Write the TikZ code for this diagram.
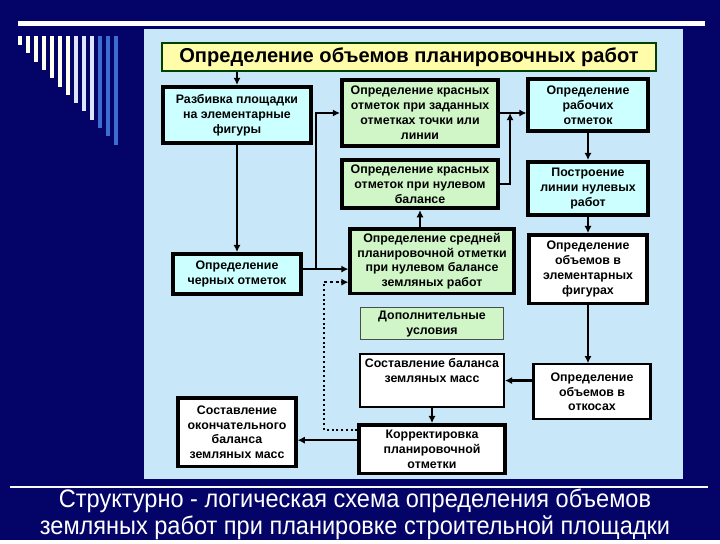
\documentclass[tikz,border=0pt]{standalone}
\usepackage{fontspec}
\setmainfont{Liberation Sans}
\usetikzlibrary{arrows.meta, positioning}

\definecolor{navy}{RGB}{4,4,104}
\definecolor{panelblue}{RGB}{200,232,250}
\definecolor{cyanfill}{RGB}{204,255,255}
\definecolor{greenfill}{RGB}{208,246,200}
\definecolor{titleyellow}{RGB}{255,252,170}
\definecolor{barcream}{RGB}{255,255,238}
\definecolor{barpale}{RGB}{222,228,250}
\definecolor{barblue}{RGB}{60,110,210}

\begin{document}
\begin{tikzpicture}[
    x=0.025cm, y=-0.025cm,
    box/.style={rectangle, draw=black, line width=2.6pt, align=center, inner sep=2pt, font=\fontsize{8.8}{10.6}\selectfont\bfseries},
    cyanbox/.style={box, fill=cyanfill},
    greenbox/.style={box, fill=greenfill},
    whitebox/.style={box, fill=white},
    arrow/.style={-{Latex[length=1.8mm, width=1.8mm]}, line width=1.7pt},
    dotline/.style={line width=1.4pt, dotted},
    dasharrow/.style={arrow, dash pattern=on 2pt off 2pt}
]
% background and decoration
\fill[navy] (0,0) rectangle (720,540);
\fill[white] (18,21) rectangle (705,26);
\foreach \i/\c in {0/barcream, 1/barcream, 2/barcream, 3/barcream, 4/barcream, 5/barcream, 6/barcream,
                   7/barpale, 8/barpale, 9/barpale, 10/barblue, 11/barblue, 12/barblue}
    \fill[\c] (18+8*\i,36) rectangle (22+8*\i,45+8.3*\i);
\fill[panelblue] (144,29) rectangle (683,479);
\fill[white!85!panelblue] (10,486) rectangle (708,488);

\node[box, fill=titleyellow, draw=black!75!green, line width=1.2pt, minimum width=12.36cm, minimum height=0.71cm,
      font=\fontsize{14.3}{16}\selectfont\bfseries] (title) at (409,57) {Определение объемов планировочных работ};

% left column
\node[cyanbox, minimum width=3.71cm, minimum height=1.41cm] (razbivka) at (237,115) {Разбивка площадки\\на элементарные\\фигуры};
\node[cyanbox, minimum width=3.21cm, minimum height=1.01cm, below=2.675cm of razbivka] (chernye) {Определение\\черных отметок};
\node[whitebox, minimum width=2.935cm, minimum height=1.71cm, below=2.5cm of chernye] (okonch) {Составление\\окончательного\\баланса\\земляных масс};

% middle column
\node[greenbox, minimum width=3.91cm, minimum height=1.66cm] (zadann) at (420,113) {Определение красных\\отметок при заданных\\отметках точки или\\линии};
\node[greenbox, minimum width=3.91cm, minimum height=1.21cm, below=0.25cm of zadann] (nulbal) {Определение красных\\отметок при нулевом\\балансе};
\node[greenbox, minimum width=4.085cm, minimum height=1.61cm, below=0.425cm of nulbal, xshift=0.3cm] (srednyaya) {Определение средней\\планировочной отметки\\при нулевом балансе\\земляных работ};
\node[greenbox, draw=black!70, line width=0.6pt, minimum width=3.58cm, minimum height=0.8cm, below=0.3cm of srednyaya] (dopusl) {Дополнительные\\условия};
\node[whitebox, line width=1.6pt, minimum width=3.59cm, minimum height=1.32cm, below=0.325cm of dopusl] (balans) {Составление баланса\\земляных масс\\ \strut};
\node[whitebox, minimum width=3.635cm, minimum height=1.21cm, below=0.375cm of balans] (korrekt) {Корректировка\\планировочной\\отметки};

% right column
\node[cyanbox, minimum width=2.985cm, minimum height=1.31cm] (rabochie) at (588,105) {Определение\\рабочих\\отметок};
\node[cyanbox, minimum width=2.985cm, minimum height=1.335cm, below=0.675cm of rabochie] (nullinia) {Построение\\линии нулевых\\работ};
\node[whitebox, minimum width=2.935cm, minimum height=1.71cm, below=0.4cm of nullinia] (obfig) {Определение\\объемов в\\элементарных\\фигурах};
\node[whitebox, line width=1.6pt, minimum width=2.92cm, minimum height=1.37cm, below=1.45cm of obfig, xshift=0.1cm] (obotkos) {Определение\\объемов в\\откосах};

\node[text=white, align=center, font=\addfontfeature{FakeStretch=0.93}\fontsize{18}{19}\selectfont] (caption) at (355,514) {Структурно - логическая схема определения объемов\\земляных работ при планировке строительной площадки};

% connectors
\coordinate (branch) at ([xshift=0.325cm, yshift=0.125cm]chernye.east);
\coordinate (merge) at ([xshift=0.25cm]zadann.east);
\coordinate (dotcorner) at ([xshift=-0.6cm, yshift=-0.525cm]srednyaya.west);

\draw[arrow] (razbivka.north |- title.south) -- (razbivka.north);
\draw[arrow] (razbivka.south) -- (razbivka.south |- chernye.north);
\draw[arrow] ([yshift=0.125cm]chernye.east) -- ([yshift=0.125cm]chernye.east -| srednyaya.west);
\draw[arrow] (branch) |- (zadann.west);
\draw[arrow] (zadann.east) -- (zadann.east -| rabochie.west);
\draw[arrow] (nulbal.east) -| (merge);
\draw[arrow] (srednyaya.north -| nulbal.south) -- (nulbal.south);
\draw[arrow] (rabochie.south) -- (nullinia.north);
\draw[arrow] (nullinia.south) -- (obfig.north);
\draw[arrow] (obfig.south) -- (obfig.south |- obotkos.north);
\draw[arrow] (obotkos.west |- balans.east) -- (balans.east);
\draw[arrow] (balans.south) -- (balans.south |- korrekt.north);
\draw[arrow] ([yshift=0.225cm]korrekt.west) -- ([yshift=0.225cm]korrekt.west -| okonch.east);
\draw[dotline] ([yshift=0.475cm]korrekt.west) -| (dotcorner);
\draw[dasharrow] (dotcorner) -- (dotcorner -| srednyaya.west);
\end{tikzpicture}
\end{document}
